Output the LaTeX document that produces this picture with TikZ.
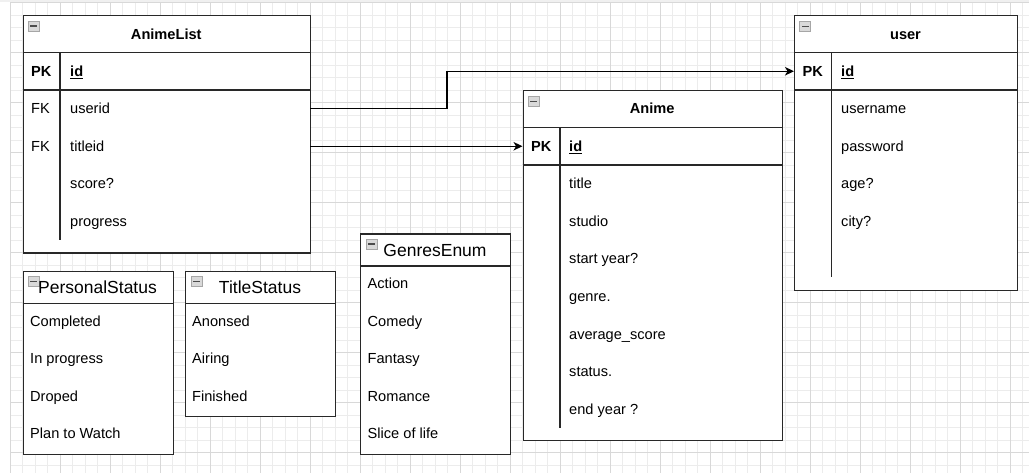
\documentclass[tikz,border=0pt]{standalone}
\usepackage{fontspec}
\setmainfont{Liberation Sans}
\usetikzlibrary{arrows.meta}
\definecolor{gridminor}{RGB}{236,236,236}
\definecolor{gridmajor}{RGB}{216,216,216}
\definecolor{edgecol}{RGB}{40,40,40}
\tikzset{
  boxline/.style={draw=edgecol, line width=1.2pt},
  keybar/.style={draw=edgecol, line width=2.4pt},
  rowtxt/.style={anchor=base west, inner sep=0pt, font=\fontsize{14.6pt}{17pt}\selectfont},
  keytxt/.style={anchor=base, inner sep=0pt, font=\fontsize{14.6pt}{17pt}\selectfont},
  titletxt/.style={anchor=base, inner sep=0pt, font=\fontsize{14.6pt}{17pt}\selectfont\bfseries},
  enumtitle/.style={anchor=base, inner sep=0pt, font=\fontsize{17.5pt}{20pt}\selectfont},
  tablebox/.style={boxline, fill=white, rectangle, inner sep=0pt, anchor=north west},
  conn/.style={draw=black, line width=1.2pt, -{Stealth[length=9pt,width=8.5pt,inset=2.5pt]}},
  minusicon/.pic={
    \filldraw[fill=gray!30, draw=gray!70, line width=0.6pt] (0,0) rectangle (11,10);
    \fill[gray!60!black] (2,4.2) rectangle (9,5.8);
  },
}
\begin{document}
\begin{tikzpicture}[x=1pt,y=-1pt]
\useasboundingbox (0,0) rectangle (1029,473);
\fill[white] (0,0) rectangle (1029,473);
\fill[gray!12] (0,0) rectangle (1029,2);
% grid
\foreach \i in {0,...,81} {\draw[gridminor, line width=0.6pt] ({10+12.5*\i},2.5) -- ({10+12.5*\i},473);}
\foreach \j in {0,...,37} {\draw[gridminor, line width=0.6pt] (10,{2.5+12.5*\j}) -- (1029,{2.5+12.5*\j});}
\foreach \i in {0,...,20} {\draw[gridmajor, line width=0.7pt] ({10+50*\i},2.5) -- ({10+50*\i},473);}
\foreach \j in {0,...,9} {\draw[gridmajor, line width=0.7pt] (10,{2.5+50*\j}) -- (1029,{2.5+50*\j});}

% ---------- AnimeList ----------
\node[tablebox, minimum width=287.5pt, minimum height=237.5pt] (animelist) at (22.5,15) {};
\draw[boxline] (22.5,52.5) -- (310,52.5);
\draw[boxline] (22.5,90) -- (310,90);
\draw[keybar] (22.5,90) -- (37.5,90);
\draw[keybar] (268,90) -- (310,90);
\draw[boxline] (60,52.5) -- (60,240);
\pic at (28,21) {minusicon};
\node[titletxt] (altitle) at (166.25,39.5) {AnimeList};
\node[keytxt, font=\fontsize{14.6pt}{17pt}\selectfont\bfseries] (alpk) at (41.25,76.5) {PK};
\node[rowtxt, font=\fontsize{14.6pt}{17pt}\selectfont\bfseries] (alid) at (70,76.5) {\underline{id}};
\node[keytxt] (alfk1) at (40.5,114) {FK};
\node[rowtxt] (alr1) at (70,114) {userid};
\node[keytxt] (alfk2) at (40.5,151.5) {FK};
\node[rowtxt] (alr2) at (70,151.5) {titleid};
\node[rowtxt] (alr3) at (70,189) {score?};
\node[rowtxt] (alr4) at (70,226.5) {progress};
\coordinate (aluserid) at (310,108.75);
\coordinate (altitleid) at (310,146.25);

% ---------- Anime ----------
\node[tablebox, minimum width=259.5pt, minimum height=350pt] (anime) at (522.5,90) {};
\draw[boxline] (522.5,127.5) -- (782,127.5);
\draw[boxline] (522.5,165) -- (782,165);
\draw[keybar] (522.5,165) -- (537.5,165);
\draw[keybar] (746,165) -- (782,165);
\draw[boxline] (560,127.5) -- (560,427.5);
\pic at (528,96.5) {minusicon};
\node[titletxt] (antitle) at (652.25,114) {Anime};
\node[keytxt, font=\fontsize{14.6pt}{17pt}\selectfont\bfseries] (anpk) at (541.25,151.5) {PK};
\node[rowtxt, font=\fontsize{14.6pt}{17pt}\selectfont\bfseries] (anid) at (569,151.5) {\underline{id}};
\node[rowtxt] (anr1) at (569,189) {title};
\node[rowtxt] (anr2) at (569,226.5) {studio};
\node[rowtxt] (anr3) at (569,264) {start year?};
\node[rowtxt] (anr4) at (569,301.5) {genre.};
\node[rowtxt] (anr5) at (569,339) {average\_score};
\node[rowtxt] (anr6) at (569,376.5) {status.};
\node[rowtxt] (anr7) at (569,414) {end year ?};
\coordinate (animepk) at (522.5,146.25);

% ---------- user ----------
\node[tablebox, minimum width=223pt, minimum height=275pt] (user) at (794,15) {};
\draw[boxline] (794,52.5) -- (1017,52.5);
\draw[boxline] (794,90) -- (1017,90);
\draw[keybar] (794,90) -- (809,90);
\draw[keybar] (983,90) -- (1017,90);
\draw[boxline] (831.5,52.5) -- (831.5,277);
\pic at (799.5,21.5) {minusicon};
\node[titletxt] (ustitle) at (905.5,39.5) {user};
\node[keytxt, font=\fontsize{14.6pt}{17pt}\selectfont\bfseries] (uspk) at (812.75,76.5) {PK};
\node[rowtxt, font=\fontsize{14.6pt}{17pt}\selectfont\bfseries] (usid) at (841,76.5) {\underline{id}};
\node[rowtxt] (usr1) at (841,114) {username};
\node[rowtxt] (usr2) at (841,151.5) {password};
\node[rowtxt] (usr3) at (841,189) {age?};
\node[rowtxt] (usr4) at (841,226.5) {city?};
\coordinate (userpk) at (794,71.25);

% ---------- PersonalStatus ----------
\node[tablebox, minimum width=150pt, minimum height=182.5pt] (personal) at (22.5,271) {};
\draw[boxline] (22.5,303.5) -- (172.5,303.5);
\pic at (28,276.5) {minusicon};
\node[enumtitle] (pstitle) at (97.5,293.5) {PersonalStatus};
\node[rowtxt] (ps1) at (30,326.2) {Completed};
\node[rowtxt] (ps2) at (30,363.7) {In progress};
\node[rowtxt] (ps3) at (30,401.2) {Droped};
\node[rowtxt] (ps4) at (30,438.7) {Plan to Watch};

% ---------- TitleStatus ----------
\node[tablebox, minimum width=150pt, minimum height=145pt] (titlestatus) at (185,271) {};
\draw[boxline] (185,303.5) -- (335,303.5);
\pic at (191,276.5) {minusicon};
\node[enumtitle] (tstitle) at (260,293.5) {TitleStatus};
\node[rowtxt] (ts1) at (192,326.2) {Anonsed};
\node[rowtxt] (ts2) at (192,363.7) {Airing};
\node[rowtxt] (ts3) at (192,401.2) {Finished};

% ---------- GenresEnum ----------
\node[tablebox, minimum width=150pt, minimum height=220pt] (genres) at (360,233.5) {};
\draw[boxline] (360,266) -- (510,266);
\pic at (366,239) {minusicon};
\node[enumtitle] (getitle) at (435,256.5) {GenresEnum};
\node[rowtxt] (ge1) at (367.5,288.7) {Action};
\node[rowtxt] (ge2) at (367.5,326.2) {Comedy};
\node[rowtxt] (ge3) at (367.5,363.7) {Fantasy};
\node[rowtxt] (ge4) at (367.5,401.2) {Romance};
\node[rowtxt] (ge5) at (367.5,438.7) {Slice of life};

% ---------- connectors ----------
\draw[conn] (aluserid) -- ++(137,0) |- (userpk);
\draw[conn] (altitleid) -- (animepk);
\end{tikzpicture}
\end{document}
